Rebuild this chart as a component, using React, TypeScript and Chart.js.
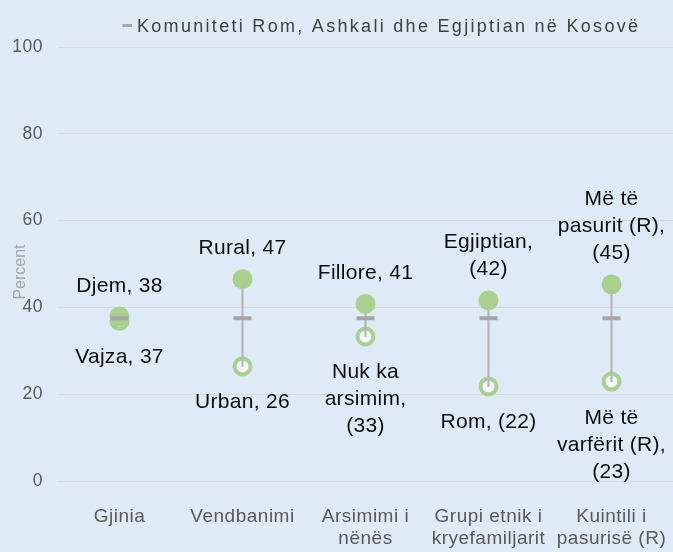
import React, { useEffect, useRef } from "react";
import { Chart, registerables } from "chart.js";

Chart.register(...registerables);

const categories: string[][] = [
  ["Gjinia"],
  ["Vendbanimi"],
  ["Arsimimi i", "nënës"],
  ["Grupi etnik i", "kryefamiljarit"],
  ["Kuintili i", "pasurisë (R)"],
];
const highValues = [37.9, 46.5, 40.8, 41.6, 45.3];
const lowValues = [36.9, 26.4, 33.3, 21.8, 22.9];
const meanValues = [37.5, 37.5, 37.5, 37.5, 37.5];
const highLabels: string[][] = [
  ["Djem, 38"],
  ["Rural, 47"],
  ["Fillore, 41"],
  ["Egjiptian,", "(42)"],
  ["Më të", "pasurit (R),", "(45)"],
];
const lowLabels: string[][] = [
  ["Vajza, 37"],
  ["Urban, 26"],
  ["Nuk ka", "arsimim,", "(33)"],
  ["Rom, (22)"],
  ["Më të", "varfërit (R),", "(23)"],
];
const legendLabel = "Komuniteti Rom, Ashkali dhe Egjiptian në Kosovë";
const yTitle = "Percent";
const yMin = 0;
const yMax = 100;
const yStep = 20;

const BG = "#DEEBF7";
const GREEN = "#A9D18E";
const GRAY = "#A6A6A6";
const FONT = "'Liberation Sans', Arial, sans-serif";

const spacingPlugin = {
  id: "spacing",
  beforeLayout(chart: any) {
    (chart.ctx as any).letterSpacing = "0.5px";
  },
  beforeDraw(chart: any) {
    const ctx = chart.ctx;
    (ctx as any).letterSpacing = "0.5px";
    ctx.save();
    ctx.fillStyle = BG;
    ctx.fillRect(0, 0, chart.width, chart.height);
    ctx.restore();
  },
};

const labelPlugin = {
  id: "pointLabels",
  afterDatasetsDraw(chart: any) {
    const ctx = chart.ctx;
    const hi = chart.getDatasetMeta(1).data;
    const lo = chart.getDatasetMeta(3).data;
    ctx.save();
    (ctx as any).letterSpacing = "0.3px";
    ctx.font = `21px ${FONT}`;
    ctx.fillStyle = "#0D0D0D";
    ctx.textAlign = "center";
    ctx.textBaseline = "alphabetic";
    const lh = 27;
    hi.forEach((p: any, i: number) => {
      const lines = highLabels[i];
      lines.forEach((t, k) => {
        const y = p.y - 25 - (lines.length - 1 - k) * lh;
        ctx.fillText(t, p.x, y);
      });
    });
    lo.forEach((p: any, i: number) => {
      const lines = lowLabels[i];
      lines.forEach((t, k) => {
        const y = p.y + 42 + k * lh;
        ctx.fillText(t, p.x, y);
      });
    });
    // legend
    (ctx as any).letterSpacing = "2.3px";
    ctx.font = `18px ${FONT}`;
    ctx.textAlign = "left";
    ctx.fillStyle = "#404040";
    ctx.fillText(legendLabel, 137, 32);
    ctx.strokeStyle = GRAY;
    ctx.lineWidth = 3;
    ctx.beginPath();
    ctx.moveTo(122.5, 25.5);
    ctx.lineTo(132, 25.5);
    ctx.stroke();
    // y title
    (ctx as any).letterSpacing = "0px";
    const a = chart.chartArea;
    ctx.translate(21, (a.top + a.bottom) / 2 + 8);
    ctx.rotate(-Math.PI / 2);
    ctx.font = `16px ${FONT}`;
    ctx.fillStyle = "#A6A6A6";
    ctx.textAlign = "center";
    ctx.textBaseline = "middle";
    ctx.fillText(yTitle, 0, 0);
    ctx.restore();
  },
};

export default function App() {
  const ref = useRef<HTMLCanvasElement | null>(null);
  useEffect(() => {
    document.body.style.margin = "0";
    document.body.style.background = BG;
    if (!ref.current) return;
    const chart = new Chart(ref.current, {
      type: "bar",
      data: {
        labels: categories as any,
        datasets: [
          {
            type: "line",
            label: legendLabel,
            data: meanValues,
            showLine: false,
            pointStyle: "line",
            pointRadius: 9,
            pointBorderWidth: 4,
            pointBorderColor: "#A6A6A6",
            pointBackgroundColor: "#A6A6A6",
            order: 0,
          } as any,
          {
            type: "line",
            label: "high",
            data: highValues,
            showLine: false,
            pointStyle: "circle",
            pointRadius: 10,
            pointBorderWidth: 0,
            pointBackgroundColor: GREEN,
            pointBorderColor: GREEN,
            order: 1,
          } as any,
          {
            type: "bar",
            label: "range",
            data: highValues.map((h, i) => [lowValues[i], h]),
            backgroundColor: "#B4B4B4",
            borderWidth: 0,
            barThickness: 1.5,
            order: 2,
          } as any,
          {
            type: "line",
            label: "low",
            data: lowValues,
            showLine: false,
            pointStyle: "circle",
            pointRadius: 8,
            pointBorderWidth: 4,
            pointBackgroundColor: "#F4F8FC",
            pointBorderColor: GREEN,
            order: 3,
          } as any,
        ],
      },
      options: {
        responsive: false,
        animation: false,
        layout: { autoPadding: false, padding: { top: 47, right: 0, bottom: 0, left: 0 } },
        plugins: {
          legend: { display: false },
          tooltip: { enabled: false },
          title: { display: false },
        },
        scales: {
          x: {
            offset: true,
            grid: { display: false, drawTicks: false },
            border: { display: false },
            ticks: {
              color: "#595959",
              font: { family: FONT, size: 19, lineHeight: 1.14 },
              padding: 25,
              maxRotation: 0,
              autoSkip: false,
            },
            afterFit(scale: any) {
              scale.height = 71;
              scale.paddingLeft = 0;
              scale.paddingRight = 0;
            },
          },
          y: {
            min: yMin,
            max: yMax,
            grid: { color: "#D9D9D9", lineWidth: 1, drawTicks: false },
            border: { display: false },
            ticks: {
              stepSize: yStep,
              color: "#595959",
              font: { family: FONT, size: 17.5 },
              padding: 15,
            },
            afterFit(scale: any) {
              scale.width = 58;
              scale.paddingTop = 0;
              scale.paddingBottom = 0;
            },
          },
        },
      },
      plugins: [spacingPlugin, labelPlugin],
    } as any);
    return () => chart.destroy();
  }, []);
  return (
    <div style={{ position: "absolute", left: 0, top: 0, width: 673, height: 552 }}>
      <canvas ref={ref} width={673} height={552} style={{ display: "block" }} />
    </div>
  );
}
